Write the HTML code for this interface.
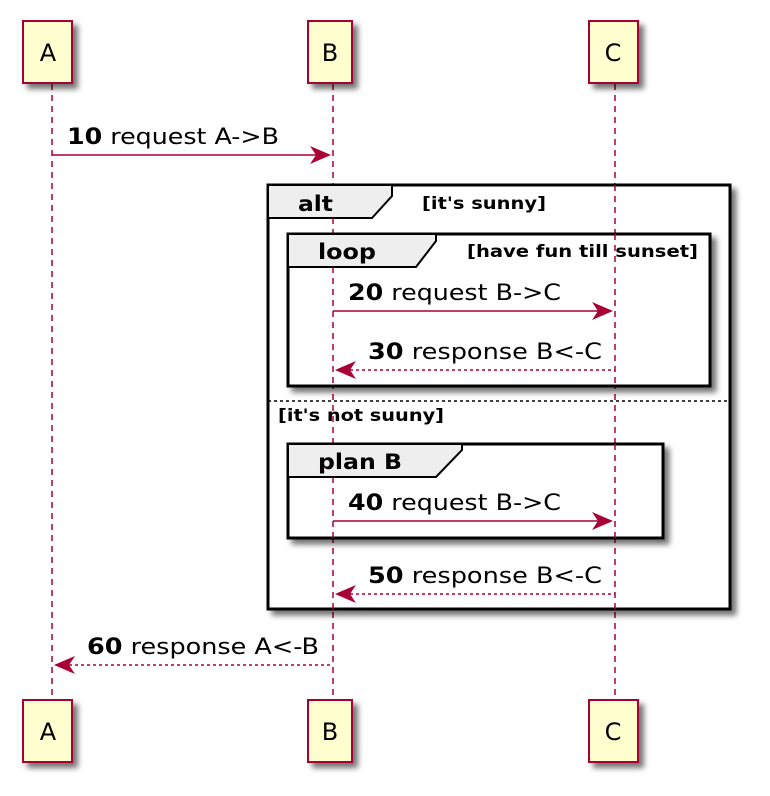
<!DOCTYPE html>
<html><head><meta charset="utf-8"><style>body{margin:0;background:#fff}svg{display:block}</style></head><body>
<svg width="770" height="796" viewBox="0 0 770 796" xmlns="http://www.w3.org/2000/svg" font-family="DejaVu Sans, Liberation Sans, sans-serif">
<defs>
<filter id="sh" x="-20%" y="-20%" width="150%" height="150%"><feGaussianBlur in="SourceAlpha" stdDeviation="3"/><feOffset dx="5" dy="5"/><feComponentTransfer><feFuncA type="linear" slope="0.55"/></feComponentTransfer><feMerge><feMergeNode/><feMergeNode in="SourceGraphic"/></feMerge></filter>
</defs>
<g stroke="#A80036" stroke-width="1.5" stroke-dasharray="6,5">
<line x1="52" y1="84" x2="52" y2="700"/>
<line x1="333" y1="84" x2="333" y2="700"/>
<line x1="615" y1="84" x2="615" y2="700"/>
</g>
<g fill="#FEFECE" stroke="#A80036" stroke-width="2" filter="url(#sh)">
<rect x="23" y="21" width="49" height="62"/>
<rect x="308" y="21" width="44" height="62"/>
<rect x="589" y="21" width="49" height="62"/>
<rect x="23" y="700" width="49" height="62"/>
<rect x="308" y="700" width="44" height="62"/>
<rect x="589" y="700" width="49" height="62"/>
</g>
<g font-size="24" text-anchor="middle" fill="#000">
<text x="48" y="61">A</text><text x="330" y="61">B</text><text x="613" y="61">C</text>
<text x="48" y="740">A</text><text x="330" y="740">B</text><text x="613" y="740">C</text>
</g>
<g filter="url(#sh)">
<rect x="268" y="185" width="462" height="424" fill="#fff" stroke="#000" stroke-width="3"/>
</g>
<path d="M268,185 H392 V196 L372,218 H268 Z" fill="#EEEEEE" stroke="#000" stroke-width="2"/>
<line x1="333" y1="218" x2="333" y2="609" stroke="#A80036" stroke-width="1.5" stroke-dasharray="6,5"/>
<line x1="615" y1="185" x2="615" y2="609" stroke="#A80036" stroke-width="1.5" stroke-dasharray="6,5"/>
<g filter="url(#sh)">
<rect x="288" y="234" width="422" height="152" fill="#fff" stroke="#000" stroke-width="3"/>
<rect x="288" y="444" width="375" height="94" fill="#fff" stroke="#000" stroke-width="3"/>
</g>
<path d="M288,234 H436 V241 L416,267 H288 Z" fill="#EEEEEE" stroke="#000" stroke-width="2"/>
<path d="M288,444 H462 V450 L436,477 H288 Z" fill="#EEEEEE" stroke="#000" stroke-width="2"/>
<g stroke="#A80036" stroke-width="1.5" stroke-dasharray="6,5">
<line x1="333" y1="267" x2="333" y2="386"/>
<line x1="615" y1="234" x2="615" y2="386"/>
<line x1="333" y1="477" x2="333" y2="538"/>
<line x1="615" y1="444" x2="615" y2="538"/>
</g>
<line x1="268" y1="401" x2="730" y2="401" stroke="#000" stroke-width="1.5" stroke-dasharray="3,3"/>
<g font-weight="bold" fill="#000">
<text x="298" y="211" font-size="21" textLength="35" lengthAdjust="spacingAndGlyphs">alt</text>
<text x="422" y="209" font-size="17" textLength="124" lengthAdjust="spacingAndGlyphs">[it's sunny]</text>
<text x="318" y="259" font-size="21" textLength="58" lengthAdjust="spacingAndGlyphs">loop</text>
<text x="467" y="257" font-size="17" textLength="231" lengthAdjust="spacingAndGlyphs">[have fun till sunset]</text>
<text x="278" y="421" font-size="17" textLength="166" lengthAdjust="spacingAndGlyphs">[it's not suuny]</text>
<text x="318" y="469" font-size="21" textLength="84" lengthAdjust="spacingAndGlyphs">plan B</text>
</g>
<g stroke="#A80036" stroke-width="1.5" fill="none">
<line x1="52" y1="155" x2="328" y2="155"/>
<line x1="333" y1="311" x2="610" y2="311"/>
<line x1="338" y1="370" x2="615" y2="370" stroke-dasharray="3,3"/>
<line x1="333" y1="521" x2="610" y2="521"/>
<line x1="338" y1="594" x2="615" y2="594" stroke-dasharray="3,3"/>
<line x1="57" y1="665" x2="333" y2="665" stroke-dasharray="3,3"/>
</g>
<g fill="#A80036">
<path d="M331,155 L310,146 L316,155 L310,164 Z"/>
<path d="M613,311 L592,302 L598,311 L592,320 Z"/>
<path d="M335,370 L356,361 L350,370 L356,379 Z"/>
<path d="M613,521 L592,512 L598,521 L592,530 Z"/>
<path d="M335,594 L356,585 L350,594 L356,603 Z"/>
<path d="M54,665 L75,656 L69,665 L75,674 Z"/>
</g>
<g font-size="22" fill="#000">
<text x="67" y="144" textLength="212" lengthAdjust="spacingAndGlyphs"><tspan font-weight="bold">10</tspan> request A-&gt;B</text>
<text x="348" y="300" textLength="213" lengthAdjust="spacingAndGlyphs"><tspan font-weight="bold">20</tspan> request B-&gt;C</text>
<text x="368" y="359" textLength="234" lengthAdjust="spacingAndGlyphs"><tspan font-weight="bold">30</tspan> response B&lt;-C</text>
<text x="348" y="510" textLength="213" lengthAdjust="spacingAndGlyphs"><tspan font-weight="bold">40</tspan> request B-&gt;C</text>
<text x="368" y="583" textLength="234" lengthAdjust="spacingAndGlyphs"><tspan font-weight="bold">50</tspan> response B&lt;-C</text>
<text x="87" y="654" textLength="232" lengthAdjust="spacingAndGlyphs"><tspan font-weight="bold">60</tspan> response A&lt;-B</text>
</g>
</svg>
</body></html>
